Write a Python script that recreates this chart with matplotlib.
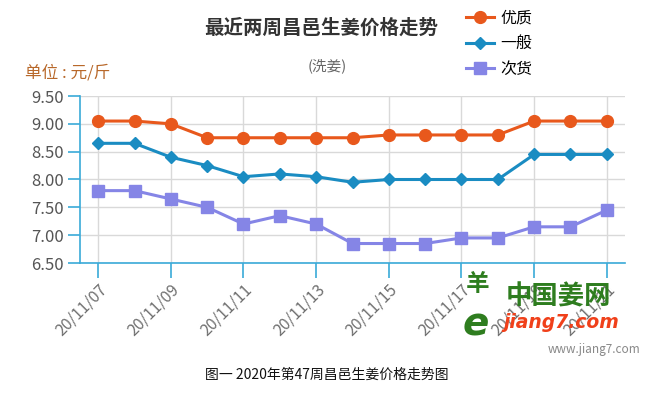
import numpy as np
import matplotlib.pyplot as plt
from matplotlib.lines import Line2D

plt.rcParams['font.family'] = ['Noto Sans CJK SC', 'DejaVu Sans']

# --- data ---
dates = ["20/11/07", "20/11/08", "20/11/09", "20/11/10", "20/11/11", "20/11/12",
         "20/11/13", "20/11/14", "20/11/15", "20/11/16", "20/11/17", "20/11/18",
         "20/11/19", "20/11/20", "20/11/21"]
youzhi = [9.05, 9.05, 9.00, 8.75, 8.75, 8.75, 8.75, 8.75, 8.80, 8.80, 8.80, 8.80, 9.05, 9.05, 9.05]
yiban = [8.65, 8.65, 8.40, 8.25, 8.05, 8.10, 8.05, 7.95, 8.00, 8.00, 8.00, 8.00, 8.45, 8.45, 8.45]
cihuo = [7.80, 7.80, 7.65, 7.50, 7.20, 7.35, 7.20, 6.85, 6.85, 6.85, 6.95, 6.95, 7.15, 7.15, 7.45]
names = ["优质", "一般", "次货"]
yticks = [6.5, 7.0, 7.5, 8.0, 8.5, 9.0, 9.5]

c_orange = "#E8581C"
c_blue = "#1A8CC2"
c_purple = "#8585E6"
c_axis = "#3AAAD8"
c_grid = "#D9D9D9"

fig = plt.figure(figsize=(6.61, 3.96), dpi=100)
ax = fig.add_axes([80 / 661, 1 - 263 / 396, 545 / 661, 167 / 396])

x = np.arange(len(dates))
ax.plot(x, youzhi, color=c_orange, lw=2.2, marker="o", ms=8.5, label=names[0], zorder=3)
ax.plot(x, yiban, color=c_blue, lw=2.2, marker="D", ms=6, label=names[1], zorder=3)
ax.plot(x, cihuo, color=c_purple, lw=2.2, marker="s", ms=8, label=names[2], zorder=3)

ax.set_xlim(-0.5, len(dates) - 0.5)
ax.set_ylim(6.5, 9.5)
ax.set_yticks(yticks)
ax.set_yticklabels([f"{v:.2f}" for v in yticks])
ax.set_xticks(x[::2])
ax.set_xticklabels(dates[::2], rotation=45, ha="right", rotation_mode="anchor")

ax.grid(True, color=c_grid, lw=1)
ax.set_axisbelow(True)
for s in ["top", "right"]:
    ax.spines[s].set_visible(False)
for s in ["left", "bottom"]:
    ax.spines[s].set_color(c_axis)
    ax.spines[s].set_linewidth(1.2)

ax.tick_params(axis="y", length=8.5, width=1.2, color=c_axis, labelcolor="#555555",
               labelsize=12, pad=3)
ax.tick_params(axis="x", length=11, width=1.2, color=c_axis, labelcolor="#707070",
               labelsize=11.5, pad=2)

# titles
fig.text(321 / 661, 1 - 28 / 396, "最近两周昌邑生姜价格走势", ha="center", va="center",
         fontsize=14, fontweight="bold", color="#333333")
fig.text(327 / 661, 1 - 66 / 396, "(洗姜)", ha="center", va="center",
         fontsize=10.5, color="#666666")
fig.text(25 / 661, 1 - 73 / 396, "单位 : 元/斤", ha="left", va="center",
         fontsize=12, color="#B8682A")

# legend
handles = [Line2D([], [], color=c_orange, lw=2.2, marker="o", ms=8.5),
           Line2D([], [], color=c_blue, lw=2.2, marker="D", ms=6),
           Line2D([], [], color=c_purple, lw=2.2, marker="s", ms=8)]
fig.legend(handles, names, loc="upper left", bbox_to_anchor=(460 / 661, 1 - 3 / 396),
           frameon=False, fontsize=11.5, handlelength=1.7, handletextpad=0.4,
           labelspacing=0.55, borderaxespad=0)

# watermark logo
fig.text(478 / 661, 1 - 284 / 396, "羊", ha="center", va="center",
         fontsize=17, fontweight="bold", color="#2E7D1F")
fig.text(476 / 661, 1 - 324 / 396, "e", ha="center", va="center",
         fontsize=28, fontweight="bold", style="italic", color="#2E7D1F",
         family="DejaVu Sans")
fig.text(558 / 661, 1 - 297 / 396, "中国姜网", ha="center", va="center",
         fontsize=19, fontweight="bold", color="#2E7D1F")
fig.text(561 / 661, 1 - 322 / 396, "jiang7.com", ha="center", va="center",
         fontsize=13.5, fontweight="bold", style="italic", color="#F0401A",
         family="DejaVu Sans")
fig.text(640 / 661, 1 - 350 / 396, "www.jiang7.com", ha="right", va="center",
         fontsize=8.5, color="#888888")

fig.text(327 / 661, 1 - 375 / 396, "图一 2020年第47周昌邑生姜价格走势图", ha="center",
         va="center", fontsize=10, color="#111111")

fig.savefig("out.png", dpi=100, facecolor="white")
